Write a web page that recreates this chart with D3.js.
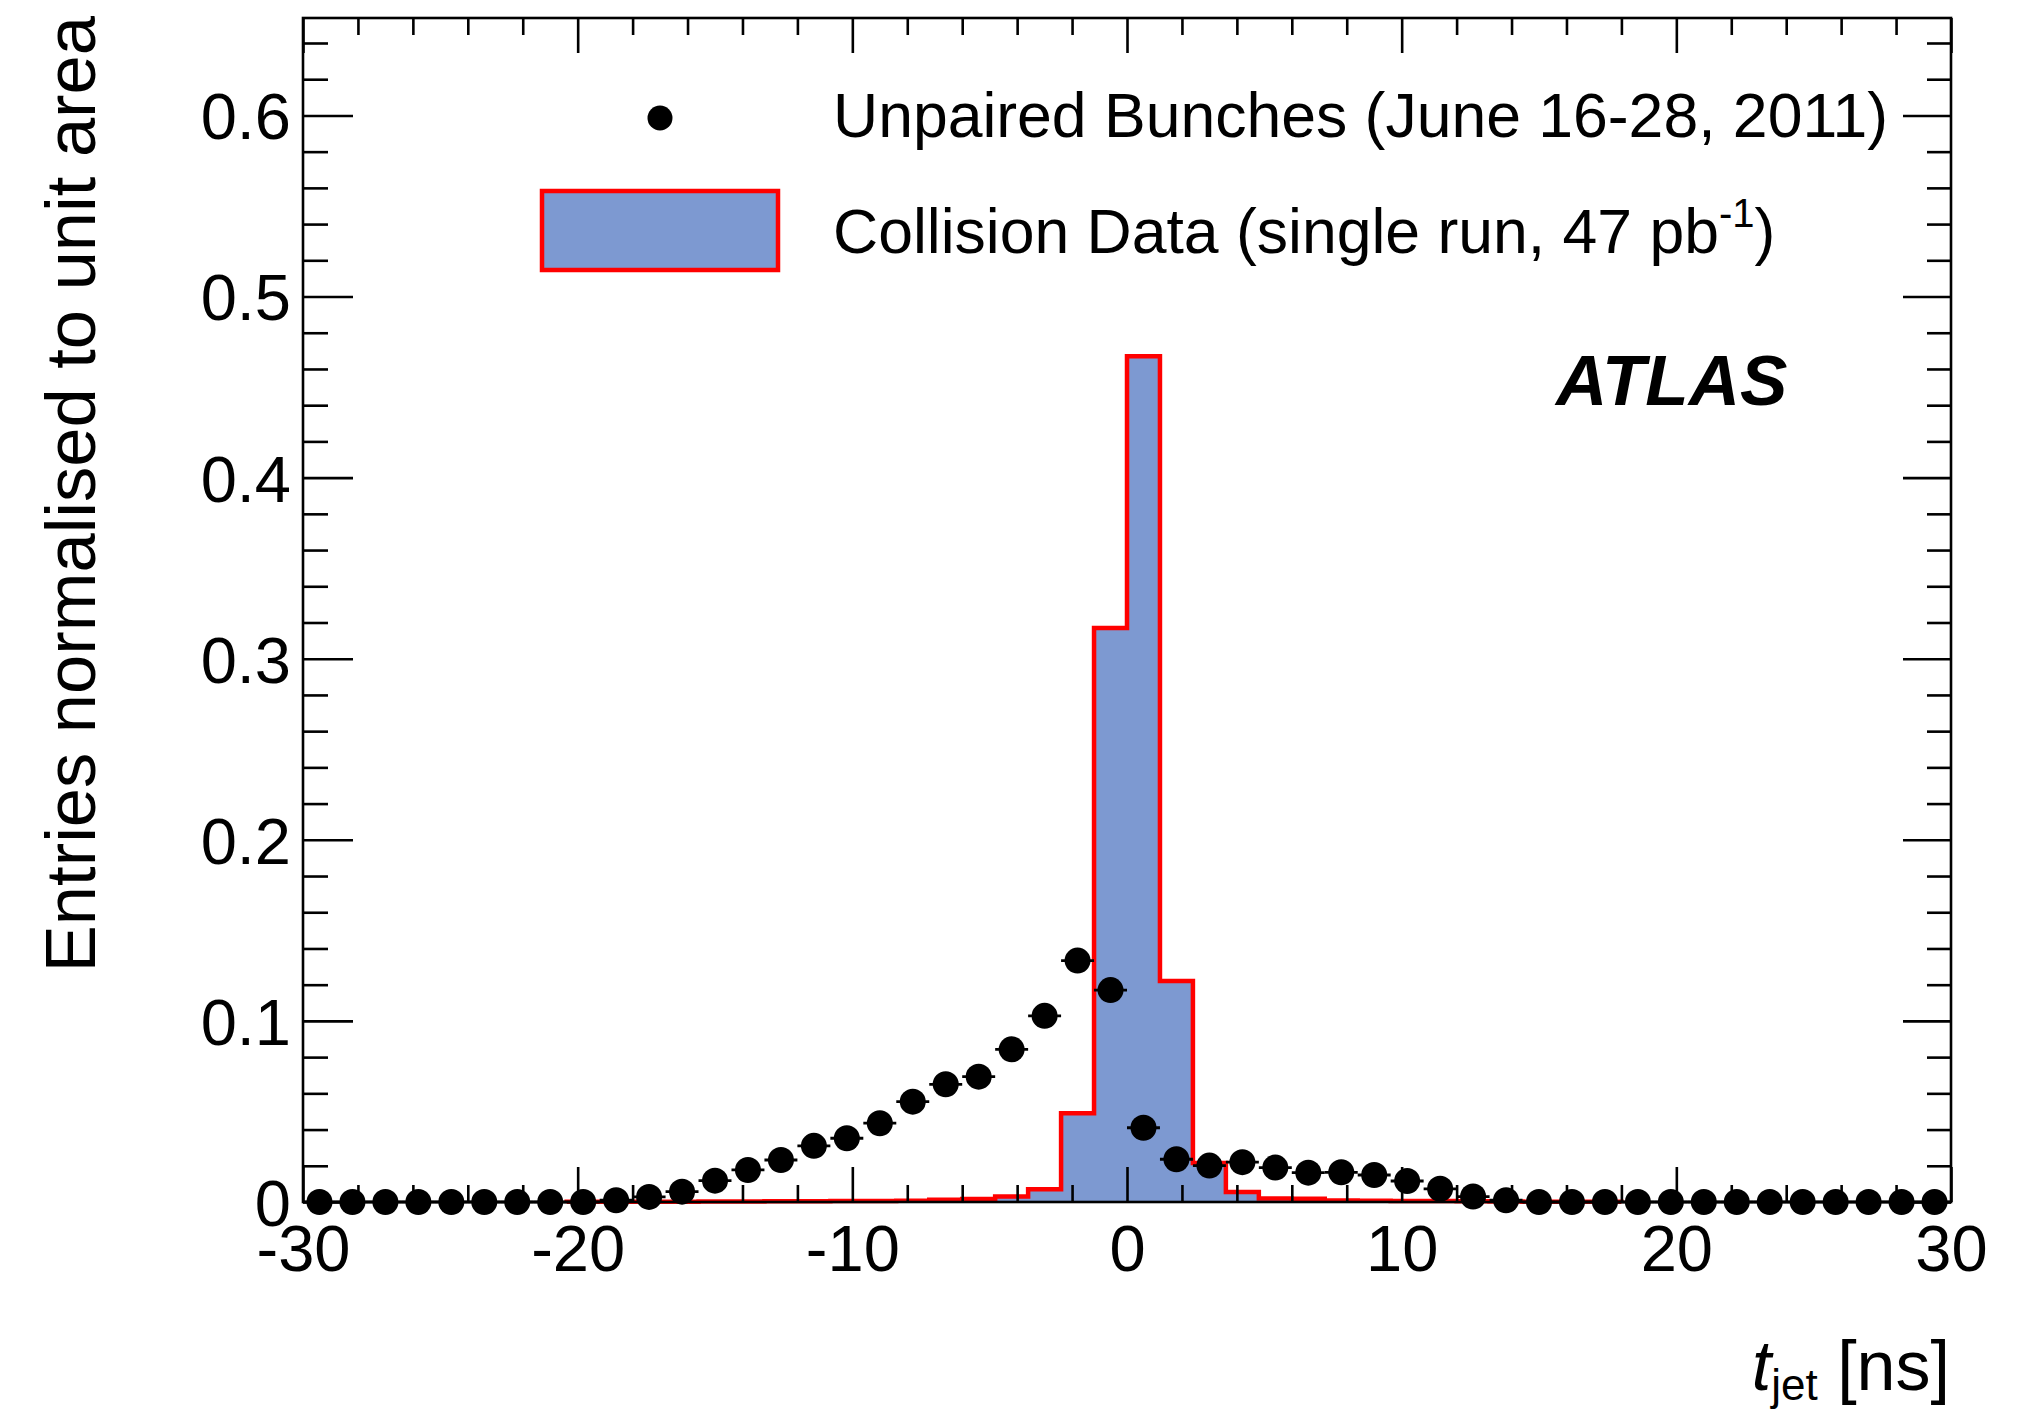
<!DOCTYPE html>
<html>
<head>
<meta charset="utf-8">
<script src="https://cdn.jsdelivr.net/npm/d3@7/dist/d3.min.js"></script>
<style>
  html, body { margin: 0; padding: 0; background: #fff; }
  svg { display: block; }
  text { font-family: "Liberation Sans", Arial, Helvetica, sans-serif; fill: #000; }
</style>
</head>
<body>
<svg id="chart" width="2028" height="1411"></svg>
<script>
// Bin low edges of the t_jet histogram [ns] (bin width 1.2 ns)
const binLowEdges = [
  -30.0, -28.8, -27.6, -26.4, -25.2, -24.0, -22.8, -21.6, -20.4, -19.2,
  -18.0, -16.8, -15.6, -14.4, -13.2, -12.0, -10.8, -9.6, -8.4, -7.2,
  -6.0, -4.8, -3.6, -2.4, -1.2, 0.0, 1.2, 2.4, 3.6, 4.8,
  6.0, 7.2, 8.4, 9.6, 10.8, 12.0, 13.2, 14.4, 15.6, 16.8,
  18.0, 19.2, 20.4, 21.6, 22.8, 24.0, 25.2, 26.4, 27.6, 28.8
];
const binWidth = 1.2;

// Unpaired bunches (June 16-28, 2011), normalised to unit area
const unpairedValues = [
  0, 0, 0, 0, 0, 0, 0, 0, 0, 0.001,
  0.0028, 0.0057, 0.0118, 0.0177, 0.0232, 0.031, 0.0352, 0.0435, 0.0554, 0.065,
  0.0692, 0.0843, 0.1028, 0.1333, 0.117, 0.041, 0.0236, 0.0201, 0.022, 0.019,
  0.0162, 0.0164, 0.0149, 0.0116, 0.0073, 0.003, 0.001, 0, 0, 0,
  0, 0, 0, 0, 0, 0, 0, 0, 0, 0
];

// Collision data (single run, 47 pb^-1), normalised to unit area
const collisionValues = [
  0, 0, 0, 0, 0, 0, 0, 0, 0.0001, 0.0001,
  0.0002, 0.0002, 0.0003, 0.0003, 0.0004, 0.0004, 0.0005, 0.0005, 0.0007, 0.0013,
  0.0016, 0.003, 0.007, 0.049, 0.317, 0.467, 0.122, 0.0215, 0.0055, 0.002,
  0.0018, 0.0008, 0.0007, 0.0006, 0.0005, 0.0004, 0.0003, 0.0002, 0.0001, 0.0001,
  0, 0, 0, 0, 0, 0, 0, 0, 0, 0
];

// Axis ticks
const xMajorTicks = [-30, -20, -10, 0, 10, 20, 30];
const xMinorTicks = d3.range(-30, 30.001, 2).filter(v => Math.abs(v % 10) > 1e-9);
const yMajorTicks = [0, 0.1, 0.2, 0.3, 0.4, 0.5, 0.6];
const yTickLabels = ["0", "0.1", "0.2", "0.3", "0.4", "0.5", "0.6"];
const yMinorTicks = d3.range(0.02, 0.65, 0.02).filter(v => Math.abs(Math.round(v * 10) - v * 10) > 1e-6);

const legendLabels = ["Unpaired Bunches (June 16-28, 2011)", "Collision Data (single run, 47 pb"];

// ---- layout ----
const frame = { left: 303, right: 1951, top: 18, bottom: 1202 };
const fillColor = "#7d99d1";
const lineColor = "#ff0000";
const axisWidth = 2.6;
const markerRadius = 13;

const svg = d3.select("#chart");

const x = d3.scaleLinear().domain([-30, 30]).range([frame.left, frame.right]);
const y = d3.scaleLinear().domain([0, 1.4 * d3.max(collisionValues)]).range([frame.bottom, frame.top]);

const bins = binLowEdges.map((lo, i) => ({
  lo, hi: lo + binWidth, mid: lo + binWidth / 2,
  coll: collisionValues[i], unp: unpairedValues[i]
}));

// ---- collision histogram: filled steps with red contour ----
const stepPoints = [];
bins.forEach(b => { stepPoints.push([b.lo, b.coll]); stepPoints.push([b.hi, b.coll]); });

svg.append("path")
  .datum(stepPoints)
  .attr("fill", fillColor)
  .attr("d", d3.area().x(d => x(d[0])).y0(y(0)).y1(d => y(d[1])));

const nonZero = bins.filter(b => b.coll > 0);
const contour = [[nonZero[0].lo, 0]];
nonZero.forEach(b => { contour.push([b.lo, b.coll]); contour.push([b.hi, b.coll]); });
contour.push([nonZero[nonZero.length - 1].hi, 0]);

svg.append("path")
  .datum(contour)
  .attr("fill", "none")
  .attr("stroke", lineColor)
  .attr("stroke-width", 4.5)
  .attr("stroke-linejoin", "miter")
  .attr("d", d3.line().x(d => x(d[0])).y(d => y(d[1])));

// ---- axes (ticks inside the frame) ----
function styleAxis(g) {
  g.select(".domain").remove();
  g.selectAll(".tick line").attr("stroke", "#000").attr("stroke-width", axisWidth);
  g.selectAll(".tick text").attr("font-size", 65).attr("font-family", "Liberation Sans, Arial, sans-serif").attr("fill", "#000");
}

svg.append("g").attr("transform", `translate(0,${frame.bottom})`)
  .call(d3.axisBottom(x).tickValues(xMajorTicks).tickSize(-35).tickSizeOuter(0).tickPadding(23)
    .tickFormat(d => String(d)))
  .call(styleAxis);
svg.append("g").attr("transform", `translate(0,${frame.bottom})`)
  .call(d3.axisBottom(x).tickValues(xMinorTicks).tickSize(-17).tickSizeOuter(0).tickFormat(""))
  .call(styleAxis);
svg.append("g").attr("transform", `translate(0,${frame.top})`)
  .call(d3.axisTop(x).tickValues(xMajorTicks).tickSize(-35).tickSizeOuter(0).tickFormat(""))
  .call(styleAxis);
svg.append("g").attr("transform", `translate(0,${frame.top})`)
  .call(d3.axisTop(x).tickValues(xMinorTicks).tickSize(-17).tickSizeOuter(0).tickFormat(""))
  .call(styleAxis);

svg.append("g").attr("transform", `translate(${frame.left},0)`)
  .call(d3.axisLeft(y).tickValues(yMajorTicks).tickSize(-50).tickSizeOuter(0).tickPadding(12)
    .tickFormat((d, i) => yTickLabels[i]))
  .call(styleAxis)
  .call(g => g.selectAll(".tick text").attr("dy", "0.36em"));
svg.append("g").attr("transform", `translate(${frame.left},0)`)
  .call(d3.axisLeft(y).tickValues(yMinorTicks).tickSize(-25).tickSizeOuter(0).tickFormat(""))
  .call(styleAxis);
svg.append("g").attr("transform", `translate(${frame.right},0)`)
  .call(d3.axisRight(y).tickValues(yMajorTicks).tickSize(-48).tickSizeOuter(0).tickFormat(""))
  .call(styleAxis);
svg.append("g").attr("transform", `translate(${frame.right},0)`)
  .call(d3.axisRight(y).tickValues(yMinorTicks).tickSize(-24).tickSizeOuter(0).tickFormat(""))
  .call(styleAxis);

svg.append("rect")
  .attr("x", frame.left).attr("y", frame.top)
  .attr("width", frame.right - frame.left).attr("height", frame.bottom - frame.top)
  .attr("fill", "none").attr("stroke", "#000").attr("stroke-width", axisWidth);

// ---- unpaired-bunch points with horizontal (bin-width) error bars ----
const pts = svg.append("g");
pts.selectAll("line.xerr").data(bins).join("line")
  .attr("class", "xerr")
  .attr("x1", d => x(d.lo)).attr("x2", d => x(d.hi))
  .attr("y1", d => y(d.unp)).attr("y2", d => y(d.unp))
  .attr("stroke", "#000").attr("stroke-width", 2.8);
pts.selectAll("circle").data(bins).join("circle")
  .attr("cx", d => x(d.mid)).attr("cy", d => y(d.unp)).attr("r", markerRadius)
  .attr("fill", "#000");

// ---- legend ----
const leg = svg.append("g");
leg.append("circle").attr("cx", 660).attr("cy", 118).attr("r", 12.5).attr("fill", "#000");
leg.append("rect").attr("x", 542).attr("y", 191).attr("width", 236).attr("height", 79)
  .attr("fill", fillColor).attr("stroke", lineColor).attr("stroke-width", 4.5);
leg.append("text").attr("x", 833).attr("y", 137).attr("font-size", 62.5).text(legendLabels[0]);
const t2 = leg.append("text").attr("x", 833).attr("y", 253).attr("font-size", 62.5);
t2.append("tspan").text(legendLabels[1]);
t2.append("tspan").attr("font-size", 40).attr("dy", -26).text("-1");
t2.append("tspan").attr("dy", 26).text(")");

// ---- ATLAS label ----
svg.append("text").attr("x", 1556).attr("y", 405)
  .attr("font-size", 71).attr("font-weight", "bold").attr("font-style", "italic")
  .text("ATLAS");

// ---- axis titles ----
const xt = svg.append("text").attr("x", 1950).attr("y", 1390)
  .attr("text-anchor", "end").attr("font-size", 70);
xt.append("tspan").attr("font-style", "italic").text("t");
xt.append("tspan").attr("font-size", 44).attr("dy", 10).text("jet");
xt.append("tspan").attr("dy", -10).text(" [ns]");

svg.append("text")
  .attr("transform", "translate(95,16) rotate(-90)")
  .attr("text-anchor", "end").attr("font-size", 70.5)
  .text("Entries normalised to unit area");
</script>
</body>
</html>
